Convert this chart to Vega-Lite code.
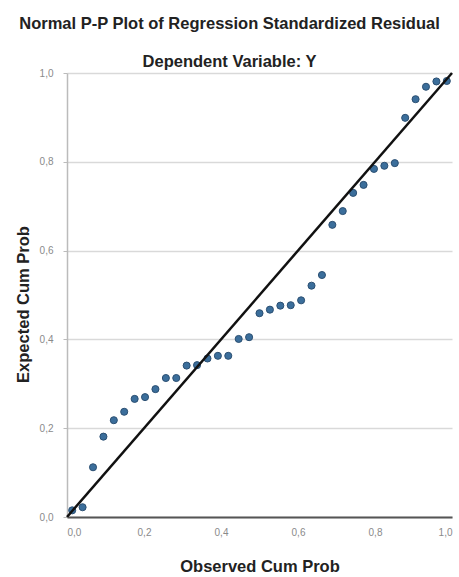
{
  "$schema": "https://vega.github.io/schema/vega-lite/v6.json",
  "width": 385,
  "height": 444,
  "autosize": {"type": "none"},
  "padding": {"left": 67, "top": 73, "right": 7, "bottom": 60},
  "background": "white",
  "config": {"view": {"stroke": null}, "font": "Liberation Sans"},
  "title": {
    "text": "Normal P-P Plot of Regression Standardized Residual",
    "subtitle": "Dependent Variable: Y",
    "fontSize": 16.5,
    "fontWeight": "bold",
    "subtitleFontSize": 16.5,
    "subtitleFontWeight": "bold",
    "color": "#222222",
    "subtitleColor": "#222222",
    "anchor": "middle",
    "dx": -30,
    "offset": -2,
    "subtitlePadding": 21
  },
  "layer": [
    {
      "data": {
        "values": [
          {"observed": 0.0135, "expected": 0.015},
          {"observed": 0.0405, "expected": 0.022},
          {"observed": 0.0676, "expected": 0.112},
          {"observed": 0.0946, "expected": 0.181},
          {"observed": 0.1216, "expected": 0.218},
          {"observed": 0.1486, "expected": 0.237},
          {"observed": 0.1757, "expected": 0.266},
          {"observed": 0.2027, "expected": 0.270},
          {"observed": 0.2297, "expected": 0.288},
          {"observed": 0.2568, "expected": 0.313},
          {"observed": 0.2838, "expected": 0.313},
          {"observed": 0.3108, "expected": 0.341},
          {"observed": 0.3378, "expected": 0.342},
          {"observed": 0.3649, "expected": 0.357},
          {"observed": 0.3919, "expected": 0.363},
          {"observed": 0.4189, "expected": 0.363},
          {"observed": 0.4459, "expected": 0.401},
          {"observed": 0.4730, "expected": 0.405},
          {"observed": 0.5000, "expected": 0.459},
          {"observed": 0.5270, "expected": 0.467},
          {"observed": 0.5541, "expected": 0.476},
          {"observed": 0.5811, "expected": 0.477},
          {"observed": 0.6081, "expected": 0.488},
          {"observed": 0.6351, "expected": 0.521},
          {"observed": 0.6622, "expected": 0.545},
          {"observed": 0.6892, "expected": 0.658},
          {"observed": 0.7162, "expected": 0.689},
          {"observed": 0.7432, "expected": 0.730},
          {"observed": 0.7703, "expected": 0.748},
          {"observed": 0.7973, "expected": 0.784},
          {"observed": 0.8243, "expected": 0.791},
          {"observed": 0.8514, "expected": 0.797},
          {"observed": 0.8784, "expected": 0.899},
          {"observed": 0.9054, "expected": 0.941},
          {"observed": 0.9324, "expected": 0.969},
          {"observed": 0.9595, "expected": 0.981},
          {"observed": 0.9865, "expected": 0.982}
        ]
      },
      "mark": {"type": "circle", "size": 50, "fill": "#3b6e9b", "stroke": "#2b4f72", "strokeWidth": 1, "opacity": 1},
      "encoding": {
        "x": {
          "field": "observed",
          "type": "quantitative",
          "scale": {"domain": [0, 1], "nice": false, "zero": false},
          "axis": {
            "title": "Observed Cum Prob",
            "titleFontSize": 16.5,
            "titleFontWeight": "bold",
            "titleColor": "#222222",
            "titlePadding": 21,
            "values": [0, 0.2, 0.4, 0.6, 0.8, 1],
            "labelExpr": "replace(format(datum.value, '.1f'), '.', ',')",
            "labelColor": "#8a8a8a",
            "labelFontSize": 10,
            "labelPadding": 10,
            "grid": false,
            "ticks": false,
            "domainColor": "#555555",
            "domainWidth": 2
          }
        },
        "y": {
          "field": "expected",
          "type": "quantitative",
          "scale": {"domain": [0, 1], "nice": false, "zero": false},
          "axis": {
            "title": "Expected Cum Prob",
            "titleFontSize": 16.5,
            "titleFontWeight": "bold",
            "titleColor": "#222222",
            "titlePadding": 8,
            "titleY": 231,
            "values": [0, 0.2, 0.4, 0.6, 0.8, 1],
            "labelExpr": "replace(format(datum.value, '.1f'), '.', ',')",
            "labelColor": "#8a8a8a",
            "labelFontSize": 10,
            "labelPadding": 10,
            "grid": true,
            "gridColor": "#d9d9d9",
            "gridWidth": 1.5,
            "ticks": true,
            "tickSize": 4,
            "tickColor": "#bbbbbb",
            "domainColor": "#bbbbbb",
            "domainWidth": 1.5
          }
        }
      }
    },
    {
      "data": {"values": [{"observed": 0, "expected": 0}, {"observed": 1, "expected": 1}]},
      "mark": {"type": "line", "color": "#111111", "strokeWidth": 2.5},
      "encoding": {
        "x": {"field": "observed", "type": "quantitative"},
        "y": {"field": "expected", "type": "quantitative"}
      }
    }
  ]
}
